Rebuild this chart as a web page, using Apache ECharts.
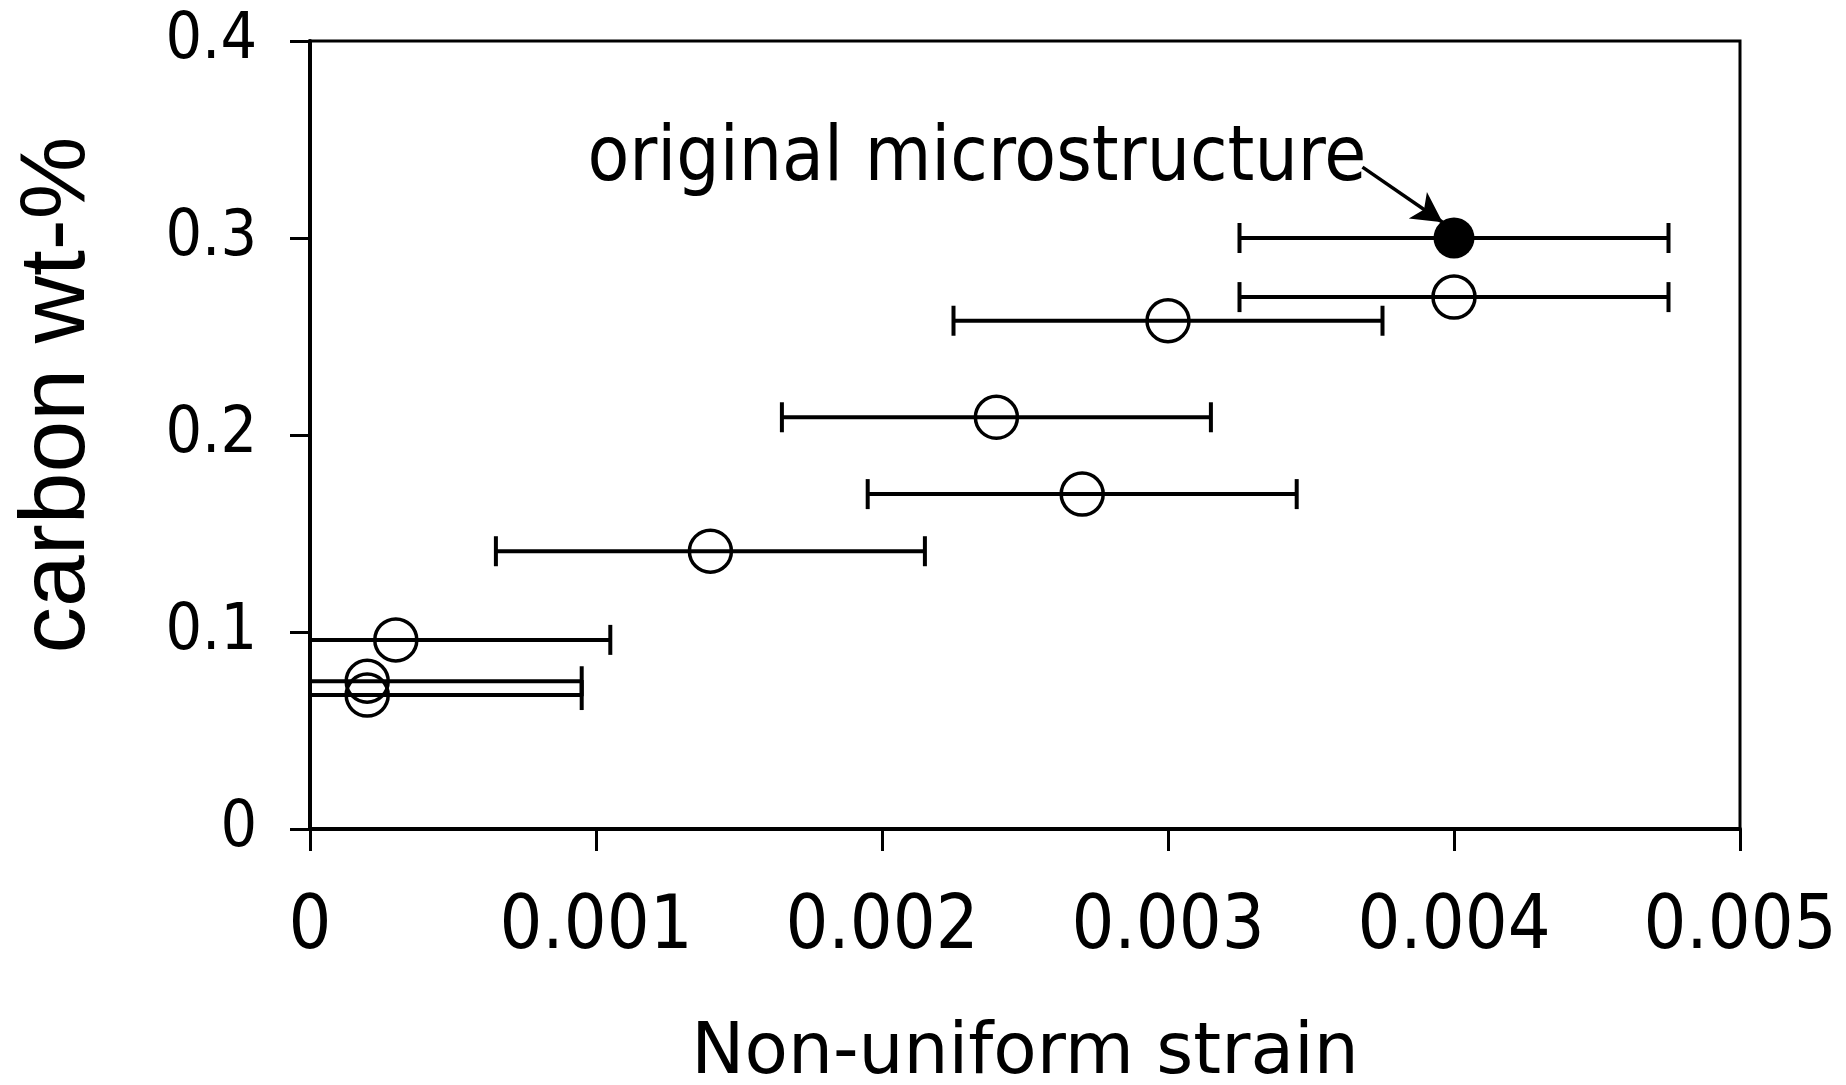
<!DOCTYPE html>
<html>
<head>
<meta charset="utf-8">
<script src="https://cdn.jsdelivr.net/npm/echarts@6/dist/echarts.min.js"></script>
<style>
html,body{margin:0;padding:0;background:#fff;}
#chart{width:1846px;height:1085px;}
</style>
</head>
<body>
<div id="chart"></div>
<script>
// ---- data ----
var strain    = [0.004, 0.004, 0.003, 0.0024, 0.0027, 0.0014, 0.0003, 0.0002, 0.0002];
var carbon    = [0.300, 0.270, 0.258, 0.209, 0.170, 0.141, 0.096, 0.075, 0.068];
var strainErr = [0.00075, 0.00075, 0.00075, 0.00075, 0.00075, 0.00075, 0.00075, 0.00075, 0.00075];
var filled    = [true, false, false, false, false, false, false, false, false];
var xTicks = [0, 0.001, 0.002, 0.003, 0.004, 0.005];
var yTicks = [0, 0.1, 0.2, 0.3, 0.4];
var noteText = 'original microstructure';
var noteAnchor = [0.00097, 0.359];
var arrowFrom = [0.00368, 0.336];
var arrowTo   = [0.00396, 0.308];

var tickFont = '"DejaVu Sans Condensed", "DejaVu Sans", sans-serif';

var openPts = [], fillPts = [], errData = [];
for (var i = 0; i < strain.length; i++) {
  (filled[i] ? fillPts : openPts).push([strain[i], carbon[i]]);
  errData.push([strain[i], carbon[i], strain[i] - strainErr[i], strain[i] + strainErr[i]]);
}

var chart = echarts.init(document.getElementById('chart'));
chart.setOption({
  backgroundColor: '#fff',
  animation: false,
  grid: { left: 310, right: 106, top: 41, bottom: 256, containLabel: false, outerBoundsMode: 'none',
          show: true, borderColor: '#000', borderWidth: 3, backgroundColor: 'transparent' },
  xAxis: {
    type: 'value', min: xTicks[0], max: xTicks[xTicks.length - 1], interval: 0.001,
    name: 'Non-uniform strain', nameLocation: 'middle', nameGap: 190,
    nameTextStyle: { color: '#000', fontSize: 71, fontFamily: '"DejaVu Sans", sans-serif' },
    axisLine: { show: true, onZero: false, lineStyle: { color: '#000', width: 4 } },
    axisTick: { show: true, inside: false, length: 22, lineStyle: { color: '#000', width: 3 } },
    axisLabel: { color: '#000', fontSize: 75, fontFamily: tickFont, margin: 62,
      formatter: function (v) { return String(+v.toFixed(3)); } },
    splitLine: { show: false }
  },
  yAxis: {
    type: 'value', min: yTicks[0], max: yTicks[yTicks.length - 1], interval: 0.1,
    name: 'carbon wt-%', nameLocation: 'middle', nameGap: 205,
    nameTextStyle: { color: '#000', fontSize: 93, fontFamily: '"Liberation Sans", Arial, sans-serif', padding: [0, 0, 0, 80] },
    axisLine: { show: true, onZero: false, lineStyle: { color: '#000', width: 4 } },
    axisTick: { show: true, inside: false, length: 20, lineStyle: { color: '#000', width: 3 } },
    axisLabel: { color: '#000', fontSize: 64, fontFamily: tickFont, margin: 53,
      formatter: function (v) { return String(+v.toFixed(1)); } },
    splitLine: { show: false }
  },
  series: [
    {
      type: 'custom', name: 'err', clip: true, z: 2,
      data: errData,
      renderItem: function (params, api) {
        var y = api.value(1);
        var p1 = api.coord([api.value(2), y]);
        var p2 = api.coord([api.value(3), y]);
        var h = 15;
        var st = { stroke: '#000', lineWidth: 4 };
        return { type: 'group', children: [
          { type: 'line', shape: { x1: p1[0], y1: p1[1], x2: p2[0], y2: p2[1] }, style: st },
          { type: 'line', shape: { x1: p1[0], y1: p1[1] - h, x2: p1[0], y2: p1[1] + h }, style: { stroke: '#000', lineWidth: 4 } },
          { type: 'line', shape: { x1: p2[0], y1: p2[1] - h, x2: p2[0], y2: p2[1] + h }, style: { stroke: '#000', lineWidth: 4 } }
        ]};
      }
    },
    {
      type: 'scatter', name: 'open', data: openPts, symbol: 'circle', symbolSize: 42, z: 3,
      itemStyle: { color: 'rgba(255,255,255,0)', borderColor: '#000', borderWidth: 3.5, opacity: 1 }
    },
    {
      type: 'scatter', name: 'filled', data: fillPts, symbol: 'circle', symbolSize: 41, z: 3,
      itemStyle: { color: '#000', borderColor: '#000', borderWidth: 0, opacity: 1 },
      markLine: {
        silent: true, animation: false,
        symbol: ['none', 'arrow'], symbolSize: [24, 30],
        lineStyle: { color: '#000', width: 3.5, type: 'solid' },
        label: { show: false },
        data: [[ { coord: arrowFrom }, { coord: arrowTo } ]]
      }
    }
  ]
});

var pt = chart.convertToPixel({ gridIndex: 0 }, noteAnchor);
chart.setOption({
  graphic: [{
    type: 'text', x: pt[0], y: pt[1], z: 10,
    style: { text: noteText, fill: '#000', font: '76px ' + tickFont, verticalAlign: 'top', align: 'left' }
  }]
});
</script>
</body>
</html>
